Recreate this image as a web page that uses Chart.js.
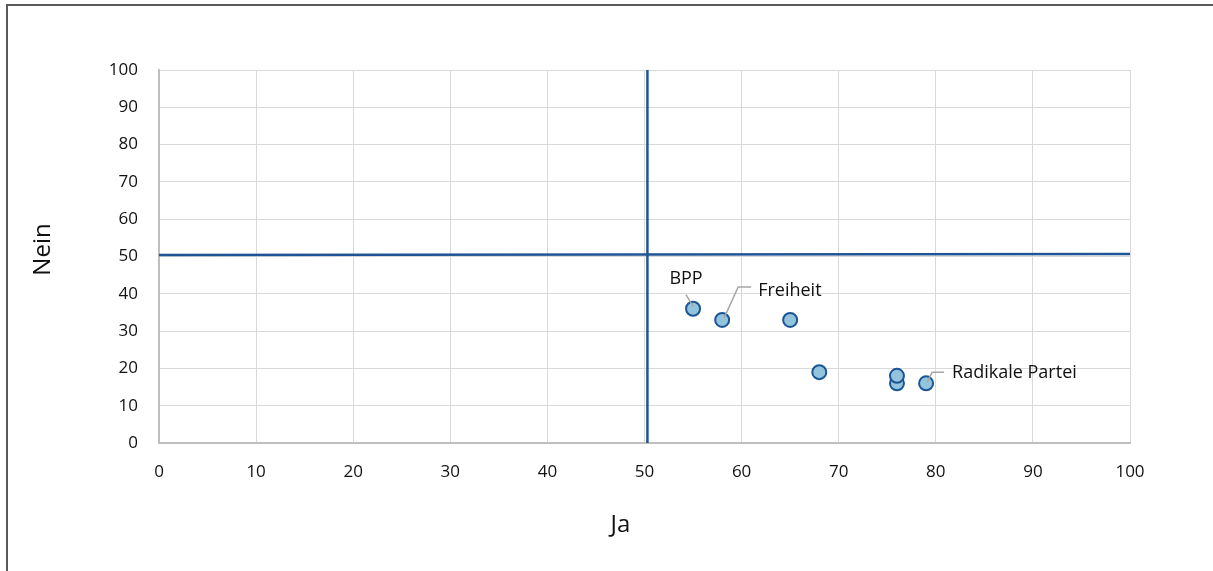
<!DOCTYPE html>
<html>
<head>
<meta charset="utf-8">
<script src="https://cdn.jsdelivr.net/npm/chart.js@4.4.0/dist/chart.umd.min.js"></script>
<style>
  body { margin: 0; background: #fff; overflow: hidden; }
  #wrap { position: relative; width: 1213px; height: 571px; }
  #frame { position: absolute; left: 6px; top: 4px; width: 1300px; height: 700px;
           border-left: 2px solid #5a5a5a; border-top: 2px solid #5a5a5a; pointer-events: none; }
</style>
</head>
<body>
<div id="wrap">
  <canvas id="quadChart" width="1213" height="571"></canvas>
  <div id="frame"></div>
</div>
<script>
// Parties: share of "Ja" vs "Nein"
const partyNames = ['BPP', 'Freiheit', '', '', '', '', 'Radikale Partei'];
const jaValues   = [55, 58, 65, 68, 76, 76, 79];
const neinValues = [36, 33, 33, 19, 16, 18, 16];

// Quadrant divider lines
const vLineX = [50.3, 50.3];
const vLineY = [0, 100];
const hLineX = [0, 100];
const hLineY = [50.4, 50.7];

const tickValues = [0, 10, 20, 30, 40, 50, 60, 70, 80, 90, 100];
const xTitle = 'Ja';
const yTitle = 'Nein';

const toPoints = (xs, ys) => xs.map((x, i) => ({ x: x, y: ys[i] }));

// leader line + label offsets (pixels, relative to the point)
const labelStyle = {
    'BPP':             { path: [[0, -2], [-7, -14]], text: [-7, -30], align: 'center' },
    'Freiheit':        { path: [[2, -2], [16, -33], [29, -33]], text: [36, -29], align: 'left' },
    'Radikale Partei': { path: [[1, -1], [6, -11], [18, -11]], text: [26, -10], align: 'left' }
};

const labelPlugin = {
    id: 'partyLabels',
    afterDatasetsDraw(chart) {
        const ctx = chart.ctx;
        const xs = chart.scales.x, ys = chart.scales.y;
        ctx.save();
        partyNames.forEach((name, i) => {
            if (!name) return;
            const st = labelStyle[name];
            const px = xs.getPixelForValue(jaValues[i]);
            const py = ys.getPixelForValue(neinValues[i]);
            ctx.strokeStyle = '#a6a6a6';
            ctx.lineWidth = 1.5;
            ctx.beginPath();
            st.path.forEach((p, k) => {
                if (k === 0) ctx.moveTo(px + p[0], py + p[1]);
                else ctx.lineTo(px + p[0], py + p[1]);
            });
            ctx.stroke();
            ctx.fillStyle = '#111';
            ctx.font = '18px "Open Sans", sans-serif';
            ctx.textAlign = st.align;
            ctx.textBaseline = 'middle';
            ctx.fillText(name, px + st.text[0], py + st.text[1]);
        });
        // axis titles, placed a little off the plot centre like the original
        const area = chart.chartArea;
        ctx.font = '24px "Open Sans", sans-serif';
        ctx.textAlign = 'center';
        ctx.textBaseline = 'middle';
        ctx.fillText(xTitle, (area.left + area.right) / 2 - 24, 525);
        ctx.translate(43, (area.top + area.bottom) / 2 - 7);
        ctx.rotate(-Math.PI / 2);
        ctx.fillText(yTitle, 0, 0);
        ctx.restore();
    }
};

const ctx = document.getElementById('quadChart').getContext('2d');
const quadChart = new Chart(ctx, {
    type: 'scatter',
    data: {
        datasets: [
            {
                label: 'Parteien',
                data: toPoints(jaValues, neinValues),
                backgroundColor: '#93c4de',
                borderColor: '#1b5594',
                borderWidth: 2,
                pointRadius: 7,
                order: 0
            },
            {
                label: 'vline',
                data: toPoints(vLineX, vLineY),
                showLine: true,
                borderColor: '#1f5494',
                borderWidth: 2.5,
                pointRadius: 0,
                order: 1
            },
            {
                label: 'hline',
                data: toPoints(hLineX, hLineY),
                showLine: true,
                borderColor: '#1f5494',
                borderWidth: 2.5,
                pointRadius: 0,
                order: 1
            }
        ]
    },
    options: {
        responsive: false,
        animation: false,
        layout: { padding: { top: 70, right: 83, left: 0, bottom: 0 } },
        plugins: {
            legend: { display: false },
            tooltip: { enabled: false }
        },
        scales: {
            x: {
                type: 'linear',
                min: 0,
                max: 100,
                afterBuildTicks: (s) => { s.ticks = tickValues.map(v => ({ value: v })); },
                afterFit: (s) => { s.height = 128; },
                grid: { color: '#d9d9d9', drawTicks: false },
                border: { color: '#bfbfbf', width: 2 },
                ticks: { color: '#111', padding: 19, font: { family: 'Open Sans', size: 17 } },
                title: { display: false }
            },
            y: {
                type: 'linear',
                min: 0,
                max: 100,
                afterBuildTicks: (s) => { s.ticks = tickValues.map(v => ({ value: v })); },
                afterFit: (s) => { s.width = 159; },
                grid: { color: '#d9d9d9', drawTicks: false },
                border: { color: '#bfbfbf', width: 2 },
                ticks: { color: '#111', padding: 21, font: { family: 'Open Sans', size: 17 } },
                title: { display: false }
            }
        }
    },
    plugins: [labelPlugin]
});
</script>
</body>
</html>
